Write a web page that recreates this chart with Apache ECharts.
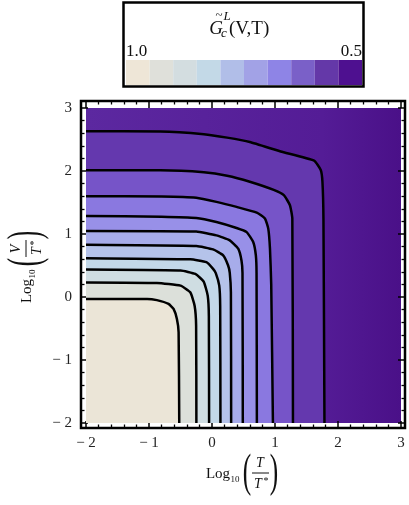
<!DOCTYPE html>
<html>
<head>
<meta charset="utf-8">
<script src="https://cdn.jsdelivr.net/npm/echarts@6/dist/echarts.min.js"></script>
<style>
  html, body { margin: 0; padding: 0; background: #fff; }
  #chart { width: 409px; height: 505px; }
</style>
</head>
<body>
<div id="chart"></div>
<script>
// density plot of G~_c^L(V,T) with 10 contour lines, log10 axes

const axisTicks = [-2, -1, 0, 1, 2, 3]

// contour lines, innermost (c1) to outermost (c10): [log10 T/T*, log10 V/T*]
const contour1 = [[-2, -0.03], [-1.03, -0.03], [-0.875, -0.05], [-0.69, -0.11], [-0.61, -0.19], [-0.557, -0.35], [-0.53, -0.56], [-0.52, -2]]
const contour2 = [[-2, 0.232], [-0.875, 0.223], [-0.5, 0.18], [-0.345, 0.074], [-0.276, -0.138], [-0.252, -0.457], [-0.248, -2]]
const contour3 = [[-2, 0.436], [-0.5, 0.42], [-0.265, 0.366], [-0.132, 0.245], [-0.068, 0.021], [-0.05, -0.3], [-0.046, -2]]
const contour4 = [[-2, 0.617], [-0.345, 0.598], [-0.089, 0.553], [0.017, 0.447], [0.06, 0.38], [0.115, 0.18], [0.13, -0.14], [0.134, -2]]
const contour5 = [[-2, 0.83], [-0.25, 0.81], [0.017, 0.755], [0.177, 0.66], [0.256, 0.5], [0.282, 0.383], [0.3, 0.07], [0.304, -2]]
const contour6 = [[-2, 1.048], [-0.25, 1.04], [0.07, 0.978], [0.282, 0.898], [0.416, 0.766], [0.468, 0.58], [0.484, 0.383], [0.489, -2]]
const contour7 = [[-2, 1.287], [-0.8, 1.275], [-0.25, 1.255], [0.07, 1.19], [0.39, 1.095], [0.55, 1.03], [0.654, 0.873], [0.696, 0.66], [0.707, 0.38], [0.712, -2]]
const contour8 = [[-2, 1.6], [-0.8, 1.595], [-0.25, 1.575], [0.07, 1.51], [0.39, 1.43], [0.71, 1.34], [0.84, 1.245], [0.893, 1.085], [0.92, 0.77], [0.94, 0.2], [0.967, -2]]
const contour9 = [[-2, 2.01], [-0.82, 2.01], [-0.13, 1.98], [0.24, 1.925], [0.6, 1.83], [0.98, 1.7], [1.14, 1.617], [1.237, 1.457], [1.275, 1.245], [1.285, -2]]
const contour10 = [[-2, 2.63], [-0.82, 2.628], [-0.13, 2.585], [0.24, 2.53], [0.6, 2.46], [1.09, 2.31], [1.62, 2.165], [1.726, 2.016], [1.753, 1.83], [1.769, 1.245], [1.785, -2]]

const contours = [contour1, contour2, contour3, contour4, contour5, contour6, contour7, contour8, contour9, contour10]
// fill inside each contour (and outside the next inner one)
const bandColors = ['#EBE5D7', '#DCE0DA', '#CFDDE2', '#C3D8E8', '#B5C3EA', '#A7ACEA', '#9890E8', '#8A78E0', '#7654C8', '#6438AE']

// colour bar: 1.0 -> 0.5 in 10 steps
const legendSteps = ['1.00', '0.95', '0.90', '0.85', '0.80', '0.75', '0.70', '0.65', '0.60', '0.55']
const legendColors = ['#EEE6D7', '#DFE0DA', '#D3DDE0', '#C3D9E7', '#B1BEE8', '#A2A2E6', '#8E84E6', '#7A60C8', '#6438A8', '#4E1090']
const legendEnds = ['1.0', '0.5']

const SERIF = '"Liberation Serif", "DejaVu Serif", serif'
const chart = echarts.init(document.getElementById('chart'), null, { renderer: 'canvas' })

function tickLabel(v) {
  return v < 0 ? '\u2212 ' + (-v) : String(v)
}

function frameAxis(extra) {
  return Object.assign({
    type: 'value',
    min: axisTicks[0],
    max: axisTicks[axisTicks.length - 1],
    interval: 1,
    gridIndex: 0,
    axisLine: { show: false, onZero: false },
    axisTick: { show: true, inside: true, length: 7, lineStyle: { color: '#000', width: 1.5 } },
    minorTick: { show: true, splitNumber: 5, length: 3.5, lineStyle: { color: '#000', width: 1.3 } },
    splitLine: { show: false },
    axisLabel: { show: false },
  }, extra)
}

const labelStyle = { show: true, color: '#222', fontFamily: SERIF, fontSize: 15, formatter: tickLabel }

// Log10( num / den ) title, laid out around local origin
function logTitle(num) {
  const t = (text, x, y, size, extra) => ({
    type: 'text', x, y,
    style: Object.assign({ text, fontFamily: SERIF, fontSize: size, fill: '#111', align: 'center', verticalAlign: 'middle' }, extra),
  })
  const paren = (text, x) => Object.assign(t(text, x, 0, 46), { scaleX: 0.55 })
  return [
    t('Log', -25, 0, 15),
    t('10', -8, 6, 9),
    paren('(', 4),
    t(num, 17, -11, 14, { fontStyle: 'italic' }),
    { type: 'line', shape: { x1: 9, y1: -1, x2: 26, y2: -1 }, style: { stroke: '#111', lineWidth: 1 } },
    t('T', 15, 10, 14, { fontStyle: 'italic' }),
    t('*', 23, 7, 10),
    paren(')', 31),
  ]
}

const option = {
  animation: false,
  backgroundColor: '#fff',
  grid: [
    {
      left: 86, top: 108, width: 315, height: 315, show: true, borderWidth: 0,
      backgroundColor: {
        type: 'linear', x: 0, y: 0, x2: 1, y2: 0,
        colorStops: [{ offset: 0, color: '#5C28A0' }, { offset: 0.75, color: '#541C96' }, { offset: 1, color: '#4A1088' }],
      },
    },
    { left: 126, top: 60, width: 236, height: 25 },
  ],
  xAxis: [
    frameAxis({ position: 'bottom', offset: 5, axisLabel: Object.assign({ margin: 8 }, labelStyle) }),
    frameAxis({ position: 'top', offset: 7 }),
    { type: 'category', gridIndex: 1, data: legendSteps, show: false },
  ],
  yAxis: [
    frameAxis({ position: 'left', offset: 5, axisLabel: Object.assign({ margin: 9 }, labelStyle) }),
    frameAxis({ position: 'right', offset: 4 }),
    { type: 'value', gridIndex: 1, min: 0, max: 1, show: false },
  ],
  series: [
    ...contours.slice().reverse().map((pts, j) => {
      const i = contours.length - 1 - j
      return {
        type: 'line',
        xAxisIndex: 0,
        yAxisIndex: 0,
        data: pts,
        symbol: 'none',
        smooth: 0.15,
        silent: true,
        lineStyle: { color: '#000', width: 2.5 },
        areaStyle: { color: bandColors[i], opacity: 1, origin: 'start' },
      }
    }),
    {
      type: 'bar',
      xAxisIndex: 2,
      yAxisIndex: 2,
      barCategoryGap: '0%',
      silent: true,
      data: legendColors.map((c) => ({ value: 1, itemStyle: { color: c } })),
    },
  ],
  graphic: [
    // plot frame
    { type: 'rect', shape: { x: 81, y: 101, width: 324, height: 327 }, style: { fill: null, stroke: '#000', lineWidth: 2.5 }, z: 100 },
    // colour bar box
    { type: 'rect', shape: { x: 123.5, y: 2.5, width: 240, height: 84 }, style: { fill: null, stroke: '#000', lineWidth: 2.5 }, z: 100 },
    { type: 'text', x: 126, y: 52, style: { text: legendEnds[0], fontFamily: SERIF, fontSize: 17, fill: '#111', verticalAlign: 'middle' } },
    { type: 'text', x: 362, y: 52, style: { text: legendEnds[1], fontFamily: SERIF, fontSize: 17, fill: '#111', align: 'right', verticalAlign: 'middle' } },
    // colour bar title  G~_c^L(V,T)
    { type: 'text', x: 216, y: 29, style: { text: 'G', fontFamily: SERIF, fontSize: 19, fontStyle: 'italic', fill: '#111', align: 'center', verticalAlign: 'middle' } },
    { type: 'text', x: 219, y: 16, style: { text: '~', fontFamily: SERIF, fontSize: 13, fill: '#111', align: 'center', verticalAlign: 'middle' } },
    { type: 'text', x: 227, y: 17, style: { text: 'L', fontFamily: SERIF, fontSize: 13, fontStyle: 'italic', fill: '#111', align: 'center', verticalAlign: 'middle' } },
    { type: 'text', x: 224, y: 34, style: { text: 'c', fontFamily: SERIF, fontSize: 13, fontStyle: 'italic', fill: '#111', align: 'center', verticalAlign: 'middle' } },
    { type: 'text', x: 229, y: 29, style: { text: '(V,T)', fontFamily: SERIF, fontSize: 19, fill: '#111', verticalAlign: 'middle' } },
    // axis titles
    { type: 'group', x: 243, y: 474, children: logTitle('T') },
    { type: 'group', x: 27, y: 266, rotation: Math.PI / 2, children: logTitle('V') },
  ],
}

chart.setOption(option)
</script>
</body>
</html>
